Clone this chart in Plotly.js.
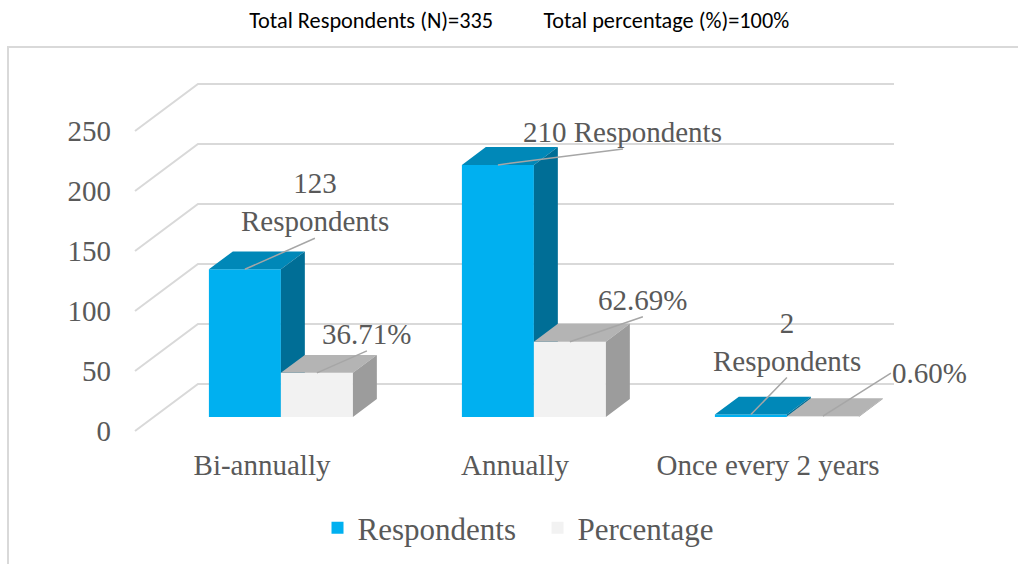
<!DOCTYPE html>
<html>
<head>
<meta charset="utf-8">
<script src="https://cdn.plot.ly/plotly-3.0.1.min.js"></script>
<style>
  html, body { margin: 0; padding: 0; background: #ffffff; }
  #chart { width: 1018px; height: 564px; }
</style>
</head>
<body>
<div id="chart"></div>
<script>
// ---------------- data ----------------
const categories = ["Bi-annually", "Annually", "Once every 2 years"];
const respondents = [123, 210, 2];
const percentage = [36.71, 62.69, 0.60];
const respondentLabels = ["123<br>Respondents", "210 Respondents", "2<br>Respondents"];
const percentageLabels = ["36.71%", "62.69%", "0.60%"];
const yTicks = [0, 50, 100, 150, 200, 250];
const seriesNames = ["Respondents", "Percentage"];
const chartTitle = "Total Respondents (N)=335\u00A0\u00A0\u00A0\u00A0\u00A0\u00A0\u00A0\u00A0\u00A0\u00A0Total percentage (%)=100%";

// ---------------- pseudo-3D geometry (axis units) ----------------
const DEPTH_DX = 0.249;   // x shift for full depth
const DEPTH_DY = 39.17;   // y shift for full depth
const WALL_LEFT = -0.502;
const WALL_RIGHT = 2.498;
const BAR_FRONT = 0.30;   // depth fraction of bar front
const BAR_BACK = 0.68;    // depth fraction of bar back
const BAR_W = 0.2846;

const fdx = BAR_FRONT * DEPTH_DX, fdy = BAR_FRONT * DEPTH_DY;
const ddx = (BAR_BACK - BAR_FRONT) * DEPTH_DX, ddy = (BAR_BACK - BAR_FRONT) * DEPTH_DY;

const idx = categories.map((_, i) => i);

// gridlines on side wall + back wall
const gx = [], gy = [];
yTicks.forEach(v => {
  gx.push(WALL_LEFT, WALL_LEFT + DEPTH_DX, WALL_RIGHT, null);
  gy.push(v, v + DEPTH_DY, v + DEPTH_DY, null);
});

function faces(values, side) {
  const top = {x: [], y: []}, right = {x: [], y: []};
  values.forEach((v, i) => {
    const xl = i + fdx + (side < 0 ? -BAR_W : 0);
    const xr = xl + BAR_W;
    const yb = fdy, yt = fdy + v;
    top.x.push(xl, xr, xr + ddx, xl + ddx, xl, null);
    top.y.push(yt, yt, yt + ddy, yt + ddy, yt, null);
    right.x.push(xr, xr, xr + ddx, xr + ddx, xr, null);
    right.y.push(yb, yt, yt + ddy, yb + ddy, yb, null);
  });
  return {top, right};
}

const blueColors = {front: "#00B0F0", top: "#0088B8", side: "#006E96"};
const grayColors = {front: "#F2F2F2", top: "#B4B4B4", side: "#9C9C9C"};

function seriesTraces(values, side, colors, name, z) {
  const f = faces(values, side);
  const centers = idx.map(i => i + fdx + side * BAR_W / 2);
  return [
    {type: "bar", x: centers, y: values, base: values.map(() => fdy), width: BAR_W,
     marker: {color: colors.front, line: {width: 0}}, name: name, showlegend: true,
     hoverinfo: "skip", zorder: z},
    {type: "scatter", mode: "lines", x: f.top.x, y: f.top.y, fill: "toself",
     fillcolor: colors.top, line: {width: 0, color: colors.top}, showlegend: false,
     hoverinfo: "skip", zorder: z},
    {type: "scatter", mode: "lines", x: f.right.x, y: f.right.y, fill: "toself",
     fillcolor: colors.side, line: {width: 0, color: colors.side}, showlegend: false,
     hoverinfo: "skip", zorder: z}
  ];
}

const traces = [
  {type: "scatter", mode: "lines", x: gx, y: gy, line: {color: "#D9D9D9", width: 2},
   showlegend: false, hoverinfo: "skip", zorder: 0},
  ...seriesTraces(respondents, -1, blueColors, seriesNames[0], 1),
  ...seriesTraces(percentage, 1, grayColors, seriesNames[1], 2)
];

// data labels with leader lines (pixel offsets)
const respOffsets = [[70, -31, "center", "bottom"], [125, -16, "center", "bottom"], [36, -37, "center", "bottom"]];
const pctOffsets = [[50, -22, "center", "bottom"], [73, -25, "center", "bottom"], [68, -43, "left", "middle"]];
const labelFont = {family: "'Liberation Serif', 'Times New Roman', serif", size: 29, color: "#595959"};

const annotations = [];
function addLabels(values, texts, offs, side) {
  values.forEach((v, i) => {
    annotations.push({
      x: i + fdx + side * BAR_W / 2, y: fdy + v, xref: "x", yref: "y",
      text: texts[i], showarrow: true, arrowhead: 0, arrowwidth: 1.5, arrowcolor: "#A6A6A6",
      ax: offs[i][0], ay: offs[i][1], xanchor: offs[i][2], yanchor: offs[i][3],
      font: labelFont, borderpad: 0, standoff: 0
    });
  });
}
addLabels(respondents, respondentLabels, respOffsets, -1);
addLabels(percentage, percentageLabels, pctOffsets, 1);

const layout = {
  width: 1018, height: 564,
  margin: {l: 116, r: 60, t: 71, b: 119},
  paper_bgcolor: "#ffffff", plot_bgcolor: "#ffffff",
  barmode: "overlay",
  hovermode: false,
  showlegend: true,
  title: {
    text: chartTitle, x: 0.51, xref: "container", xanchor: "center",
    y: 1 - 20 / 564, yref: "container", yanchor: "middle",
    font: {family: "Carlito, 'Liberation Sans Narrow', 'Noto Sans', sans-serif", size: 22.3, color: "#000000"}
  },
  xaxis: {
    range: [-0.5771, 2.7510], tickvals: idx, ticktext: categories,
    showgrid: false, zeroline: false, showline: false, ticks: "",
    tickfont: {family: "'Liberation Serif', 'Times New Roman', serif", size: 29, color: "#595959"},
    fixedrange: true
  },
  yaxis: {
    range: [-11.67, 300], tickvals: yTicks, ticktext: yTicks.map(String),
    showgrid: false, zeroline: false, showline: false, ticks: "",
    ticklabelstandoff: 4,
    tickfont: {family: "'Liberation Serif', 'Times New Roman', serif", size: 29, color: "#595959"},
    fixedrange: true
  },
  legend: {
    orientation: "h", xref: "container", x: 0.528, xanchor: "center",
    yref: "container", y: 1 - 528 / 564, yanchor: "middle",
    font: {family: "'Liberation Serif', 'Times New Roman', serif", size: 31, color: "#595959"},
    itemsizing: "constant", traceorder: "normal", itemwidth: 30, entrywidth: 175
  },
  annotations: annotations,
  shapes: [{
    type: "rect", xref: "paper", yref: "paper", layer: "below",
    x0: (8 - 116) / 842, x1: (1040 - 116) / 842,
    y0: (445 - 600) / 374, y1: (445 - 47) / 374,
    line: {color: "#D9D9D9", width: 2}, fillcolor: "rgba(0,0,0,0)"
  }]
};

Plotly.newPlot("chart", traces, layout, {staticPlot: true, displayModeBar: false});
</script>
</body>
</html>
